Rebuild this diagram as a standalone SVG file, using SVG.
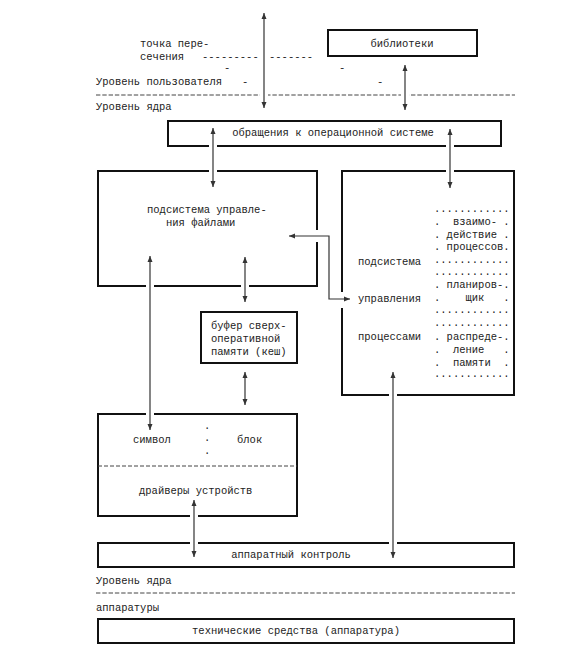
<svg xmlns="http://www.w3.org/2000/svg" width="582" height="650" viewBox="0 0 582 650">
<style>
text{font-family:"Liberation Mono","DejaVu Sans Mono",monospace;font-size:10.5px;fill:#222;white-space:pre}
.box{fill:none;stroke:#111;stroke-width:2}
.sep{stroke:#444;stroke-width:1;stroke-dasharray:4.4 1.9;fill:none}
.halo{stroke:#fff;stroke-width:8;fill:none}
.ar{stroke:#333;stroke-width:1.2;fill:none;marker-start:url(#ah);marker-end:url(#ah)}
.mid{text-anchor:middle}
</style>
<defs>
<marker id="ah" markerUnits="userSpaceOnUse" markerWidth="7" markerHeight="6" refX="6" refY="3" orient="auto-start-reverse">
<path d="M0,0.5 L6,3 L0,5.5 Z" fill="#333"/>
</marker>
</defs>
<rect width="582" height="650" fill="#fff"/>

<g id="levels">
<text x="140" y="47">точка пере-</text>
<text x="140" y="60">сечения</text>
<text x="202" y="60">---------</text>
<text x="269" y="60">-------</text>
<text x="224" y="71">-</text>
<text x="339" y="71">-</text>
<text x="96" y="85">Уровень пользователя</text>
<text x="242" y="85">-</text>
<text x="377" y="85">-</text>
<line class="sep" x1="96" y1="95" x2="515" y2="95"/>
<text x="96" y="110">Уровень ядра</text>
<text x="96" y="584">Уровень ядра</text>
<line class="sep" x1="96" y1="593" x2="515" y2="593"/>
<text x="96" y="611">аппаратуры</text>
</g>

<g id="libraries">
<rect class="box" x="328" y="30" width="149" height="26"/>
<text class="mid" x="402" y="47">библиотеки</text>
</g>

<g id="syscalls">
<rect class="box" x="168" y="121" width="333" height="25"/>
<text class="mid" x="333" y="136">обращения к операционной системе</text>
</g>

<g id="filesys">
<path class="box" d="M317,242 V286 H98 V171 H317 V230"/>
<text x="147" y="213">подсистема управле-</text>
<text x="166" y="226">ния файлами</text>
</g>

<g id="cache">
<rect class="box" x="201" y="312" width="96" height="51"/>
<text x="211" y="329">буфер сверх-</text>
<text x="211" y="342">оперативной</text>
<text x="211" y="355">памяти (кеш)</text>
</g>

<g id="procsys">
<path class="box" d="M342,308 V395 H514 V171 H342 V292"/>
<text x="358" y="265">подсистема</text>
<text x="358" y="302">управления</text>
<text x="358" y="340">процессами</text>
<text x="434" y="212">............</text>
<text x="434" y="225">.  взаимо- .</text>
<text x="434" y="238">. действие .</text>
<text x="434" y="250">. процессов.</text>
<text x="434" y="263">............</text>
<text x="434" y="275">............</text>
<text x="434" y="288">. планиров-.</text>
<text x="434" y="301">.    щик   .</text>
<text x="434" y="313">............</text>
<text x="434" y="326">............</text>
<text x="434" y="340">. распреде-.</text>
<text x="434" y="353">.  ление   .</text>
<text x="434" y="366">.  памяти  .</text>
<text x="434" y="377">............</text>
</g>

<g id="drivers">
<rect class="box" x="98" y="414" width="199" height="102"/>
<text x="133" y="443">символ</text>
<text x="204" y="429">.</text>
<text x="204" y="441">.</text>
<text x="204" y="454">.</text>
<text x="237" y="443">блок</text>
<line class="sep" x1="98" y1="466" x2="297" y2="466" style="stroke-dasharray:4 2"/>
<text x="139" y="494">драйверы устройств</text>
</g>

<g id="hwcontrol">
<rect class="box" x="98" y="543" width="416" height="24"/>
<text class="mid" x="291" y="558">аппаратный контроль</text>
</g>

<g id="hardware">
<rect class="box" x="98" y="619" width="416" height="24"/>
<text class="mid" x="296" y="634">технические средства (аппаратура)</text>
</g>

<g id="connectors">
<line class="halo" x1="264" y1="13" x2="264" y2="108"/>
<line class="ar" x1="264" y1="13" x2="264" y2="108"/>
<line class="halo" x1="405" y1="65" x2="405" y2="110"/>
<line class="ar" x1="405" y1="65" x2="405" y2="110"/>
<line class="halo" x1="213" y1="128" x2="213" y2="187"/>
<line class="ar" x1="213" y1="128" x2="213" y2="187"/>
<line class="halo" x1="450" y1="129" x2="450" y2="188"/>
<line class="ar" x1="450" y1="129" x2="450" y2="188"/>
<line class="halo" x1="150" y1="256" x2="150" y2="430"/>
<line class="ar" x1="150" y1="256" x2="150" y2="430"/>
<line class="halo" x1="245" y1="257" x2="245" y2="302"/>
<line class="ar" x1="245" y1="257" x2="245" y2="302"/>
<line class="ar" x1="245" y1="372" x2="245" y2="405"/>
<line class="halo" x1="194" y1="500" x2="194" y2="557"/>
<line class="ar" x1="194" y1="500" x2="194" y2="557"/>
<line class="halo" x1="393" y1="372" x2="393" y2="558"/>
<line class="ar" x1="393" y1="372" x2="393" y2="558"/>
<path class="ar" d="M289,236 H329 V299 H350"/>
</g>
</svg>
